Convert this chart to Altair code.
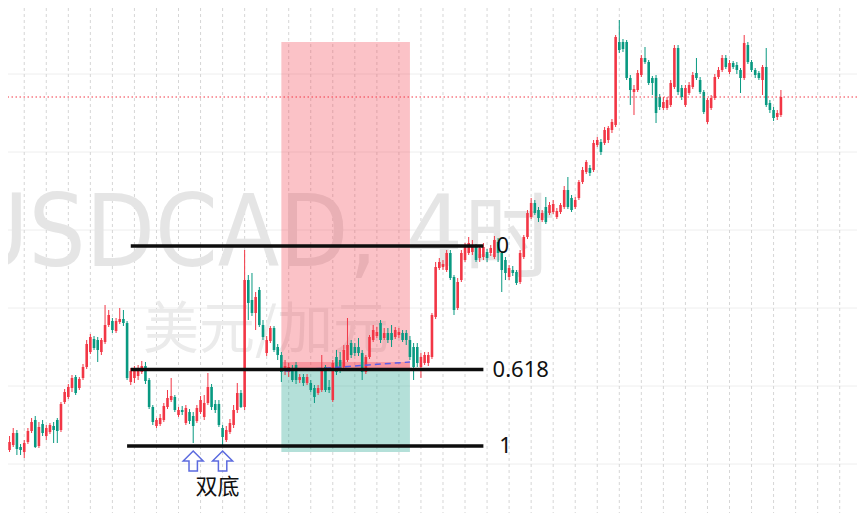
import altair as alt
import pandas as pd

# ---------------- USDCAD 4H candles (price) ----------------
open_ = [
1.3543,1.3550,1.3555,1.3567,1.3553,1.3548,1.3558,1.3569,1.3580,1.3554,
1.3576,1.3564,1.3568,1.3574,1.3580,1.3570,1.3598,1.3603,1.3612,1.3623,
1.3612,1.3622,1.3633,1.3648,1.3661,1.3660,1.3648,1.3658,1.3675,1.3679,
1.3669,1.3678,1.3681,1.3677,1.3618,1.3622,1.3624,1.3628,1.3634,1.3620,
1.3593,1.3574,1.3576,1.3580,1.3593,1.3600,1.3603,1.3585,1.3590,1.3577,
1.3588,1.3584,1.3579,1.3588,1.3583,1.3597,1.3613,1.3596,1.3596,1.3572,
1.3560,1.3568,1.3575,1.3590,1.3607,1.3593,1.3720,1.3700,1.3687,1.3710,
1.3675,1.3647,1.3659,1.3672,1.3653,1.3645,1.3630,1.3628,1.3632,1.3635,
1.3620,1.3623,1.3617,1.3617,1.3612,1.3607,1.3610,1.3633,1.3613,1.3600,
1.3643,1.3640,1.3633,1.3640,1.3657,1.3653,1.3653,1.3647,1.3628,1.3643,
1.3660,1.3664,1.3677,1.3662,1.3667,1.3667,1.3663,1.3665,1.3667,1.3667,
1.3660,1.3653,1.3653,1.3633,1.3637,1.3637,1.3643,1.3683,1.3732,1.3733,
1.3730,1.3747,1.3723,1.3692,1.3720,1.3740,1.3747,1.3748,1.3753,1.3742,
1.3743,1.3748,1.3747,1.3743,1.3758,1.3747,1.3740,1.3723,1.3730,1.3728,
1.3718,1.3743,1.3763,1.3783,1.3797,1.3790,1.3780,1.3793,1.3787,1.3788,
1.3783,1.3788,1.3793,1.3810,1.3802,1.3793,1.3802,1.3818,1.3828,1.3832,
1.3830,1.3855,1.3858,1.3857,1.3860,1.3870,1.3875,1.3958,1.3958,1.3958,
1.3922,1.3908,1.3910,1.3925,1.3942,1.3938,1.3922,1.3922,1.3903,1.3892,
1.3892,1.3895,1.3913,1.3952,1.3912,1.3895,1.3907,1.3913,1.3927,1.3920,
1.3908,1.3878,1.3892,1.3902,1.3923,1.3930,1.3942,1.3928,1.3937,1.3935,
1.3930,1.3922,1.3955,1.3938,1.3930,1.3927,1.3920,1.3933,1.3897,1.3890,
1.3883,1.3885]

high = [
1.3558,1.3564,1.3572,1.3570,1.3556,1.3560,1.3572,1.3582,1.3584,1.3578,
1.3580,1.3575,1.3577,1.3578,1.3582,1.3598,1.3611,1.3616,1.3625,1.3625,
1.3623,1.3636,1.3660,1.3666,1.3664,1.3663,1.3662,1.3695,1.3690,1.3682,
1.3682,1.3692,1.3690,1.3679,1.3632,1.3634,1.3635,1.3639,1.3638,1.3622,
1.3595,1.3582,1.3586,1.3597,1.3610,1.3622,1.3605,1.3593,1.3594,1.3595,
1.3591,1.3588,1.3595,1.3604,1.3605,1.3627,1.3616,1.3600,1.3600,1.3575,
1.3574,1.3581,1.3595,1.3617,1.3610,1.3750,1.3725,1.3727,1.3708,1.3713,
1.3680,1.3664,1.3674,1.3674,1.3656,1.3648,1.3640,1.3637,1.3635,1.3638,
1.3626,1.3626,1.3626,1.3620,1.3615,1.3615,1.3645,1.3635,1.3620,1.3640,
1.3650,1.3648,1.3655,1.3682,1.3660,1.3657,1.3662,1.3650,1.3645,1.3665,
1.3675,1.3673,1.3680,1.3672,1.3672,1.3675,1.3673,1.3672,1.3670,1.3670,
1.3664,1.3657,1.3657,1.3647,1.3648,1.3648,1.3687,1.3738,1.3742,1.3740,
1.3750,1.3750,1.3725,1.3722,1.3750,1.3757,1.3763,1.3760,1.3756,1.3755,
1.3757,1.3751,1.3755,1.3764,1.3762,1.3749,1.3743,1.3735,1.3734,1.3730,
1.3750,1.3765,1.3790,1.3802,1.3800,1.3793,1.3790,1.3803,1.3798,1.3800,
1.3792,1.3797,1.3814,1.3823,1.3805,1.3803,1.3820,1.3833,1.3840,1.3835,
1.3860,1.3863,1.3861,1.3873,1.3874,1.3881,1.3965,1.3980,1.3961,1.3960,
1.3925,1.3915,1.3930,1.3945,1.3953,1.3940,1.3924,1.3925,1.3906,1.3903,
1.3903,1.3920,1.3955,1.3955,1.3915,1.3915,1.3918,1.3928,1.3942,1.3923,
1.3910,1.3902,1.3905,1.3926,1.3933,1.3945,1.3945,1.3940,1.3939,1.3938,
1.3932,1.3965,1.3958,1.3940,1.3932,1.3929,1.3935,1.3952,1.3900,1.3893,
1.3890,1.3910]

low = [
1.3540,1.3548,1.3553,1.3545,1.3545,1.3542,1.3556,1.3567,1.3552,1.3552,
1.3564,1.3560,1.3566,1.3557,1.3557,1.3568,1.3596,1.3601,1.3608,1.3605,
1.3610,1.3620,1.3631,1.3646,1.3650,1.3638,1.3645,1.3656,1.3673,1.3667,
1.3667,1.3676,1.3674,1.3620,1.3615,1.3617,1.3620,1.3626,1.3616,1.3591,
1.3575,1.3572,1.3574,1.3578,1.3591,1.3598,1.3588,1.3583,1.3585,1.3575,
1.3576,1.3557,1.3577,1.3586,1.3580,1.3595,1.3590,1.3587,1.3573,1.3554,
1.3558,1.3566,1.3572,1.3587,1.3592,1.3590,1.3680,1.3684,1.3670,1.3673,
1.3660,1.3644,1.3657,1.3648,1.3640,1.3618,1.3625,1.3623,1.3618,1.3616,
1.3617,1.3614,1.3615,1.3608,1.3597,1.3605,1.3608,1.3608,1.3607,1.3598,
1.3625,1.3627,1.3630,1.3638,1.3642,1.3644,1.3644,1.3620,1.3626,1.3641,
1.3658,1.3662,1.3657,1.3660,1.3657,1.3653,1.3661,1.3662,1.3658,1.3655,
1.3640,1.3620,1.3633,1.3622,1.3635,1.3634,1.3641,1.3681,1.3730,1.3730,
1.3728,1.3720,1.3685,1.3690,1.3718,1.3738,1.3745,1.3745,1.3738,1.3738,
1.3740,1.3738,1.3744,1.3741,1.3738,1.3708,1.3720,1.3720,1.3724,1.3715,
1.3716,1.3741,1.3761,1.3781,1.3785,1.3778,1.3778,1.3776,1.3785,1.3786,
1.3781,1.3786,1.3791,1.3791,1.3788,1.3791,1.3800,1.3816,1.3826,1.3824,
1.3828,1.3853,1.3845,1.3855,1.3857,1.3867,1.3873,1.3947,1.3948,1.3920,
1.3895,1.3885,1.3908,1.3923,1.3936,1.3915,1.3905,1.3877,1.3890,1.3890,
1.3890,1.3893,1.3911,1.3905,1.3900,1.3893,1.3905,1.3911,1.3920,1.3906,
1.3886,1.3876,1.3890,1.3900,1.3921,1.3928,1.3931,1.3926,1.3931,1.3926,
1.3907,1.3920,1.3936,1.3928,1.3922,1.3920,1.3905,1.3893,1.3887,1.3879,
1.3880,1.3883]

close = [
1.3553,1.3558,1.3567,1.3551,1.3550,1.3557,1.3569,1.3578,1.3553,1.3573,
1.3567,1.3572,1.3575,1.3570,1.3569,1.3596,1.3608,1.3613,1.3622,1.3607,
1.3621,1.3633,1.3656,1.3663,1.3652,1.3650,1.3660,1.3675,1.3685,1.3670,
1.3679,1.3681,1.3677,1.3622,1.3629,1.3630,1.3631,1.3634,1.3619,1.3593,
1.3578,1.3580,1.3582,1.3594,1.3602,1.3604,1.3590,1.3590,1.3588,1.3592,
1.3579,1.3574,1.3592,1.3600,1.3597,1.3613,1.3593,1.3590,1.3575,1.3563,
1.3570,1.3577,1.3590,1.3607,1.3593,1.3720,1.3697,1.3687,1.3703,1.3675,
1.3663,1.3660,1.3672,1.3650,1.3645,1.3628,1.3634,1.3633,1.3620,1.3620,
1.3623,1.3617,1.3623,1.3610,1.3603,1.3612,1.3632,1.3610,1.3610,1.3637,
1.3628,1.3630,1.3650,1.3655,1.3645,1.3647,1.3647,1.3628,1.3643,1.3663,
1.3670,1.3668,1.3660,1.3667,1.3660,1.3660,1.3670,1.3668,1.3660,1.3660,
1.3643,1.3633,1.3637,1.3643,1.3645,1.3645,1.3685,1.3733,1.3738,1.3736,
1.3747,1.3722,1.3690,1.3718,1.3747,1.3753,1.3757,1.3755,1.3740,1.3752,
1.3753,1.3742,1.3752,1.3760,1.3747,1.3730,1.3727,1.3732,1.3727,1.3717,
1.3747,1.3763,1.3787,1.3797,1.3787,1.3782,1.3787,1.3778,1.3795,1.3796,
1.3789,1.3795,1.3810,1.3793,1.3790,1.3800,1.3818,1.3830,1.3838,1.3827,
1.3857,1.3860,1.3848,1.3870,1.3872,1.3878,1.3963,1.3950,1.3951,1.3922,
1.3910,1.3911,1.3927,1.3942,1.3938,1.3917,1.3917,1.3887,1.3893,1.3898,
1.3900,1.3917,1.3952,1.3908,1.3903,1.3912,1.3915,1.3925,1.3922,1.3908,
1.3888,1.3900,1.3902,1.3923,1.3930,1.3942,1.3933,1.3937,1.3933,1.3930,
1.3922,1.3957,1.3938,1.3930,1.3925,1.3922,1.3933,1.3895,1.3890,1.3882,
1.3887,1.3903]

# Fibonacci retracement
fib_high = 1.3754
fib_low = 1.3554
fib_ratios = [0, 0.618, 1]
fib_labels = ["0", "0.618", "1"]
fib_start = [34, 34, 33]
fib_end = [130, 130, 130]
fib_label_bar = [133.6, 132.5, 134.3]

# short position tool
pos_start, pos_end = 75, 110
pos_entry, pos_stop, pos_target = 1.3630, 1.3958, 1.3548
pos_band = 1.3638
path_bars = [76, 110]
path_prices = [1.3629, 1.3638]

last_price = 1.3903
hgrid_prices = [1.3926, 1.3848, 1.3770, 1.3692, 1.3614, 1.3536]
vgrid_bars = list(range(5, 231, 6))

arrow_bars = [51, 59]
arrow_prices = [1.3539, 1.3539]
note_text = ["双底"]
note_bar = [57.6]
note_price = [1.3513]

# ---------------- chart ----------------
W, H = 849, 505
RED, GREEN = "#f23645", "#089981"
xs = alt.Scale(domain=[1.94, 230.35], nice=False, zero=False)
ys = alt.Scale(domain=[1.3487, 1.3992], nice=False, zero=False)

candles = pd.DataFrame({"bar": list(range(len(close))), "open": open_,
                        "high": high, "low": low, "close": close})
updown = alt.condition("datum.close >= datum.open", alt.value(RED), alt.value(GREEN))

hgrid = alt.Chart(pd.DataFrame({"price": hgrid_prices})).mark_rule(
    color="#eeeeee", strokeWidth=1).encode(y=alt.Y("price:Q", scale=ys, axis=None))
vgrid = alt.Chart(pd.DataFrame({"bar": vgrid_bars})).mark_rule(
    color="#d6d6d6", strokeWidth=1, strokeDash=[3, 3]).encode(
    x=alt.X("bar:Q", scale=xs, axis=None))

WM_FONT = "DejaVu Sans Condensed, Liberation Sans, Arial, sans-serif"
wm1 = alt.Chart(pd.DataFrame({"t": ["USDCAD, 4"]})).mark_text(
    align="right", baseline="alphabetic", font=WM_FONT,
    fontSize=100, color="#e5e5e5").encode(text="t:N", x=alt.value(455), y=alt.value(258))
wm2 = alt.Chart(pd.DataFrame({"t": ["时"]})).mark_text(
    align="left", baseline="alphabetic", font="Noto Sans CJK SC",
    fontSize=92, color="#e5e5e5").encode(text="t:N", x=alt.value(456), y=alt.value(262))
wm3 = alt.Chart(pd.DataFrame({"t": ["美元/加元"]})).mark_text(
    align="left", baseline="middle", font="Noto Sans CJK SC",
    fontSize=56, color="#ebebeb").encode(text="t:N", x=alt.value(135), y=alt.value(323))

pos = pd.DataFrame({"start": [pos_start], "end": [pos_end], "entry": [pos_entry],
                    "stop": [pos_stop], "target": [pos_target], "band": [pos_band]})
pbase = alt.Chart(pos)
stop_rect = pbase.mark_rect(color=RED, opacity=0.3).encode(
    x=alt.X("start:Q", scale=xs, axis=None), x2="end:Q",
    y=alt.Y("entry:Q", scale=ys, axis=None), y2="stop:Q")
band_rect = pbase.mark_rect(color=RED, opacity=0.3).encode(
    x=alt.X("start:Q", scale=xs, axis=None), x2="end:Q",
    y=alt.Y("entry:Q", scale=ys, axis=None), y2="band:Q")
target_rect = pbase.mark_rect(color=GREEN, opacity=0.3).encode(
    x=alt.X("start:Q", scale=xs, axis=None), x2="end:Q",
    y=alt.Y("target:Q", scale=ys, axis=None), y2="entry:Q")

cbase = alt.Chart(candles)
wicks = cbase.mark_rule(strokeWidth=1, clip=True).encode(
    x=alt.X("bar:Q", scale=xs, axis=None),
    y=alt.Y("low:Q", scale=ys, axis=None), y2="high:Q", color=updown)
bodies = cbase.mark_bar(size=2.6, clip=True).encode(
    x=alt.X("bar:Q", scale=xs, axis=None),
    y=alt.Y("open:Q", scale=ys, axis=None), y2="close:Q", color=updown)

path = alt.Chart(pd.DataFrame({"bar": path_bars, "price": path_prices})).mark_line(
    color="#5a5fe8", strokeWidth=1.5, strokeDash=[6, 4]).encode(
    x=alt.X("bar:Q", scale=xs, axis=None), y=alt.Y("price:Q", scale=ys, axis=None))

fib = pd.DataFrame({"ratio": fib_ratios, "label": fib_labels, "start": fib_start,
                    "end": fib_end, "lbar": fib_label_bar})
fib["price"] = fib_high - fib["ratio"] * (fib_high - fib_low)
fib_lines = alt.Chart(fib).mark_rule(color="#0d0d0d", strokeWidth=3.5).encode(
    x=alt.X("start:Q", scale=xs, axis=None), x2="end:Q",
    y=alt.Y("price:Q", scale=ys, axis=None))
fib_text = alt.Chart(fib).mark_text(
    align="left", baseline="middle", font="Noto Sans", fontSize=22, color="#111111").encode(
    x=alt.X("lbar:Q", scale=xs, axis=None), y=alt.Y("price:Q", scale=ys, axis=None),
    text="label:N")

price_line = alt.Chart(pd.DataFrame({"price": [last_price]})).mark_rule(
    color=RED, strokeWidth=1, strokeDash=[1.5, 2.5]).encode(
    y=alt.Y("price:Q", scale=ys, axis=None))

ARROW = "M0,-1L1,0L0.42,0L0.42,1L-0.42,1L-0.42,0L-1,0Z"
arrows = alt.Chart(pd.DataFrame({"bar": arrow_bars, "price": arrow_prices})).mark_point(
    shape=ARROW, size=400, filled=False, color="#5c6bdf", strokeWidth=1.5, opacity=1).encode(
    x=alt.X("bar:Q", scale=xs, axis=None), y=alt.Y("price:Q", scale=ys, axis=None))
note = alt.Chart(pd.DataFrame({"t": note_text, "bar": note_bar, "price": note_price})).mark_text(
    align="center", baseline="middle", font="Noto Sans CJK SC", fontSize=22, color="#111111").encode(
    x=alt.X("bar:Q", scale=xs, axis=None), y=alt.Y("price:Q", scale=ys, axis=None), text="t:N")

chart = alt.layer(
    hgrid, vgrid, wm1, wm2, wm3, stop_rect, band_rect, target_rect,
    wicks, bodies, path, fib_lines, fib_text, price_line, arrows, note
).properties(
    width=W, height=H, padding=0, autosize=alt.AutoSizeParams(type="none")
).configure_view(stroke=None)

chart.save("out.html", embed_options={"renderer": "svg", "actions": False})
